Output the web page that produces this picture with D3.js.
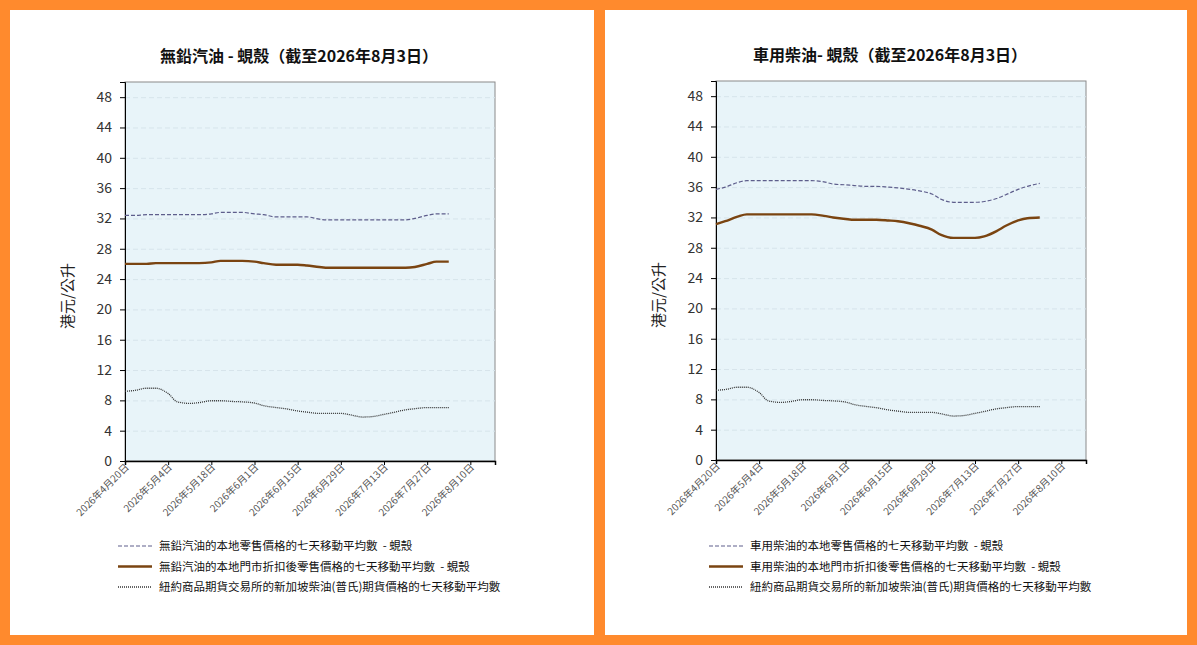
<!DOCTYPE html>
<html>
<head>
<meta charset="utf-8">
<script src="https://cdn.jsdelivr.net/npm/d3@7/dist/d3.min.js"></script>
<style>
  body { margin: 0; background: #ff8a2d; }
  svg { display: block; }
  text { font-family: "Noto Sans CJK TC", "Noto Sans", sans-serif; white-space: pre; }
</style>
</head>
<body>
<script>
// dates of the sampled points (7-day moving averages)
var dates = ["2026-04-20","2026-04-23","2026-04-27","2026-04-30","2026-05-04","2026-05-07",
  "2026-05-11","2026-05-14","2026-05-18","2026-05-21","2026-05-25","2026-05-28","2026-06-01",
  "2026-06-04","2026-06-08","2026-06-11","2026-06-15","2026-06-18","2026-06-22","2026-06-25",
  "2026-06-29","2026-07-02","2026-07-06","2026-07-09","2026-07-13","2026-07-16","2026-07-20",
  "2026-07-23","2026-07-27","2026-07-30","2026-08-03"];

var petrolRetail = [32.4,32.4,32.5,32.5,32.5,32.5,32.5,32.5,32.6,32.8,32.8,32.8,32.6,32.5,32.2,32.2,
  32.2,32.2,31.9,31.8,31.8,31.8,31.8,31.8,31.8,31.8,31.8,32.0,32.4,32.6,32.6];
var petrolDiscount = [26.0,26.0,26.0,26.1,26.1,26.1,26.1,26.1,26.2,26.4,26.4,26.4,26.3,26.1,25.9,25.9,
  25.9,25.8,25.6,25.5,25.5,25.5,25.5,25.5,25.5,25.5,25.5,25.6,26.0,26.3,26.3];
var dieselRetail = [35.7,36.0,36.6,36.85,36.85,36.85,36.85,36.85,36.85,36.85,36.7,36.4,36.3,36.2,36.1,36.1,
  36.0,35.9,35.7,35.5,35.1,34.4,34.0,34.0,34.0,34.1,34.5,35.0,35.7,36.1,36.5];
var dieselDiscount = [31.1,31.5,32.1,32.4,32.4,32.4,32.4,32.4,32.4,32.4,32.2,32.0,31.8,31.7,31.7,31.7,
  31.6,31.5,31.2,30.9,30.4,29.7,29.3,29.3,29.3,29.5,30.2,30.9,31.6,31.9,32.0];
var nymexGasoil = [9.2,9.3,9.6,9.6,8.9,7.8,7.6,7.7,7.95,7.95,7.85,7.8,7.65,7.3,7.05,6.9,
  6.6,6.45,6.28,6.28,6.28,6.1,5.8,5.85,6.15,6.4,6.75,6.9,7.05,7.05,7.05];

var xTicks = ["2026-04-20","2026-05-04","2026-05-18","2026-06-01","2026-06-15","2026-06-29",
  "2026-07-13","2026-07-27","2026-08-10"];
var yTicks = [0,4,8,12,16,20,24,28,32,36,40,44,48];
var yLabel = "港元/公升";

var charts = [
  { title: "無鉛汽油 - 蜆殼（截至2026年8月3日）", panelX: 10, panelW: 584, x0: 125, y0: 82,
    retail: petrolRetail, discount: petrolDiscount,
    legend: ["無鉛汽油的本地零售價格的七天移動平均數  - 蜆殼",
             "無鉛汽油的本地門市折扣後零售價格的七天移動平均數  - 蜆殼",
             "紐約商品期貨交易所的新加坡柴油(普氏)期貨價格的七天移動平均數"] },
  { title: "車用柴油- 蜆殼（截至2026年8月3日）", panelX: 605, panelW: 582, x0: 716, y0: 81,
    retail: dieselRetail, discount: dieselDiscount,
    legend: ["車用柴油的本地零售價格的七天移動平均數  - 蜆殼",
             "車用柴油的本地門市折扣後零售價格的七天移動平均數  - 蜆殼",
             "紐約商品期貨交易所的新加坡柴油(普氏)期貨價格的七天移動平均數"] }
];

var W = 1197, H = 645;
var plotW = 370, plotH = 379;
var parse = d3.utcParse("%Y-%m-%d");

var svg = d3.select("body").append("svg").attr("width", W).attr("height", H);
svg.append("rect").attr("width", W).attr("height", H).attr("fill", "#ff8a2d");

charts.forEach(function(c) {
  svg.append("rect").attr("x", c.panelX).attr("y", 10).attr("width", c.panelW).attr("height", 625)
    .attr("fill", "#fff");

  var g = svg.append("g").attr("transform", "translate(" + c.x0 + "," + c.y0 + ")");

  var x = d3.scaleUtc().domain([parse("2026-04-20"), parse("2026-08-18")]).range([0, plotW]);
  var y = d3.scaleLinear().domain([0, 50]).range([plotH, 0]);

  g.append("rect").attr("width", plotW).attr("height", plotH)
    .attr("fill", "#e8f4f9").attr("stroke", "#8a8a8a").attr("stroke-width", 1);

  // grid
  g.append("g").selectAll("line").data(yTicks.slice(1)).enter().append("line")
    .attr("x1", 0).attr("x2", plotW)
    .attr("y1", function(d) { return y(d) + 0.5; }).attr("y2", function(d) { return y(d) + 0.5; })
    .attr("stroke", "#d6e4eb").attr("stroke-dasharray", "5,3");

  var yAxis = g.append("g").call(d3.axisLeft(y).tickValues(yTicks).tickSize(5).tickPadding(8));
  yAxis.select(".domain").attr("stroke", "#000");
  yAxis.selectAll("text").attr("font-size", 14).attr("fill", "#333")
    .attr("font-family", "'DejaVu Sans Condensed', 'Liberation Sans Narrow', sans-serif");

  var xAxis = g.append("g").attr("transform", "translate(0," + plotH + ")")
    .call(d3.axisBottom(x).tickValues(xTicks.map(parse)).tickSize(4)
      .tickFormat(function(d) { return d.getUTCFullYear() + "年" + (d.getUTCMonth() + 1) + "月" + d.getUTCDate() + "日"; }));
  xAxis.select(".domain").attr("stroke", "#000").attr("stroke-width", 1.5);
  xAxis.selectAll("text").attr("font-size", 10).attr("fill", "#555")
    .attr("text-anchor", "end").attr("dy", null).attr("y", 0)
    .attr("transform", "translate(4,7) rotate(-45)");

  svg.append("text").attr("transform", "translate(" + (c.x0 - 52) + "," + (c.y0 + 214) + ") rotate(-90)")
    .attr("text-anchor", "middle").attr("font-size", 15).attr("fill", "#222").text(yLabel);

  svg.append("text").attr("x", c.x0 + plotW / 2 - 11).attr("y", c.y0 - 20)
    .attr("text-anchor", "middle").attr("font-size", 16).attr("font-weight", "bold")
    .attr("fill", "#111").text(c.title);

  var series = [
    { values: c.retail, color: "#5e5e8c", width: 1.2, dash: "4,2" },
    { values: c.discount, color: "#7a4411", width: 2.4, dash: null },
    { values: nymexGasoil, color: "#333", width: 1.3, dash: "1,1" }
  ];

  var line = d3.line()
    .x(function(d) { return x(d.date); })
    .y(function(d) { return y(d.value); })
    .curve(d3.curveMonotoneX);

  series.forEach(function(s) {
    var pts = dates.map(function(d, i) { return { date: parse(d), value: s.values[i] }; });
    g.append("path").datum(pts).attr("d", line).attr("fill", "none")
      .attr("stroke", s.color).attr("stroke-width", s.width)
      .attr("stroke-dasharray", s.dash);
  });

  // legend
  var lg = svg.append("g").attr("transform", "translate(" + (c.x0 - 7) + ",546)");
  series.forEach(function(s, i) {
    var row = lg.append("g").attr("transform", "translate(0," + (i * 20.5) + ")");
    row.append("line").attr("x1", 0).attr("x2", 34).attr("y1", 0).attr("y2", 0)
      .attr("stroke", s.color).attr("stroke-width", s.width).attr("stroke-dasharray", s.dash);
    row.append("text").attr("x", 41).attr("y", 4).attr("font-size", 11.5).attr("fill", "#111")
      .text(c.legend[i]);
  });
});
</script>
</body>
</html>
